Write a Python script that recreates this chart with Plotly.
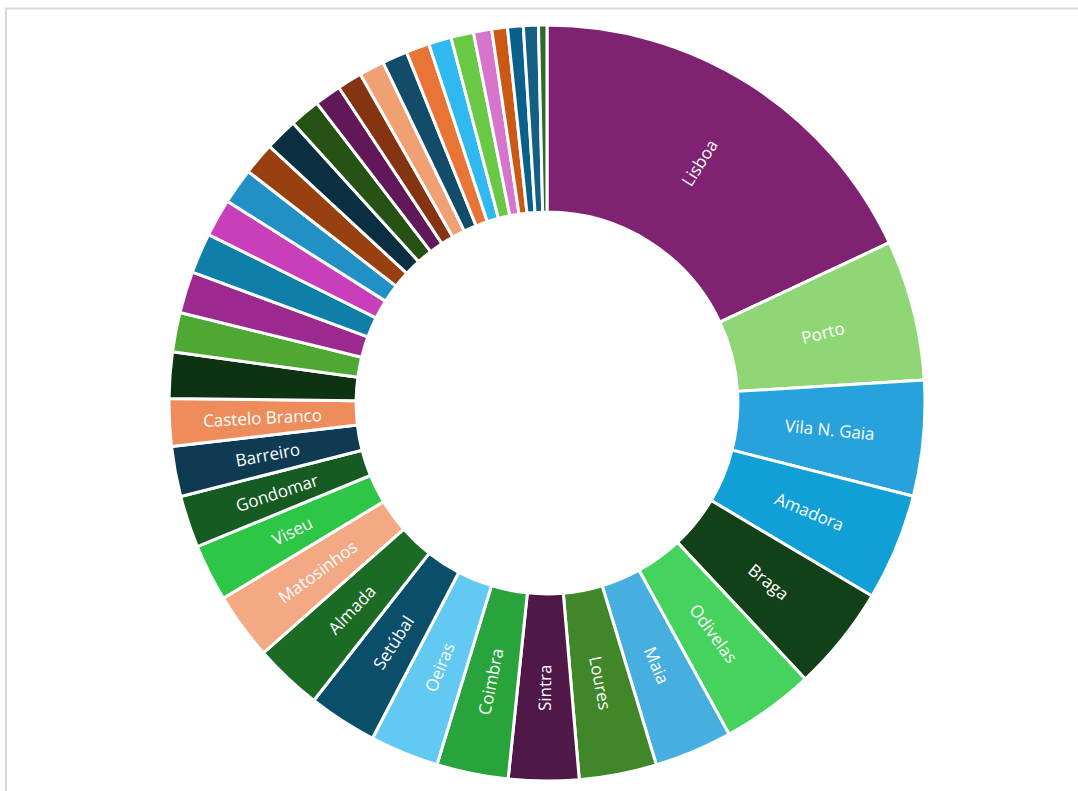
import math
import plotly.graph_objects as go

# Municipalities, clockwise from 12 o'clock
municipios = [
    "Lisboa", "Porto", "Vila N. Gaia", "Amadora", "Braga", "Odivelas", "Maia",
    "Loures", "Sintra", "Coimbra", "Oeiras", "Setúbal", "Almada", "Matosinhos",
    "Viseu", "Gondomar", "Barreiro", "Castelo Branco",
    "Vila Franca de Xira", "Guimarães", "Leiria", "Funchal", "Aveiro", "Faro",
    "Santa Maria da Feira", "Cascais", "Seixal", "Évora", "Santarém",
    "Vila do Conde", "Póvoa de Varzim", "Torres Vedras", "Ponta Delgada",
    "Valongo", "Paredes", "Figueira da Foz", "Portimão", "Bragança",
    "Vila Real",
]

# Share of total (%)
percentagem = [
    18.03, 6.00, 4.94, 4.56, 4.50, 3.97, 3.33,
    3.31, 3.00, 3.06, 2.94, 2.94, 2.92, 2.86,
    2.44, 2.22, 2.14, 2.03,
    1.97, 1.69, 1.78, 1.72, 1.61, 1.53,
    1.39, 1.39, 1.31, 1.14, 1.06,
    1.08, 1.08, 1.00, 0.97,
    0.97, 0.78, 0.67, 0.67, 0.64,
    0.36,
]

# Only the larger slices carry a name inside the ring
n_rotulados = 18

cores = [
    "#7f2272", "#8fd776", "#27a2dc", "#11a0d6", "#124019", "#45d35e", "#47afe0",
    "#3f8728", "#501848", "#29a33c", "#62c9f2", "#0a4e6a", "#1c6b25", "#f2a984",
    "#2dc647", "#165c22", "#0e3a52", "#ef8c5c",
    "#0d3312", "#4fa832", "#9c2a8e", "#0f7ea8", "#c93eb9", "#2190c4",
    "#994010", "#0b2e40", "#275216", "#601858", "#843410",
    "#f0a073", "#124c68", "#e87535", "#30b8f0",
    "#6ac944", "#d774cc", "#cc5816", "#09608a", "#155f85",
    "#2d6b28",
]

BURACO = 0.505

fig = go.Figure(
    go.Pie(
        labels=municipios,
        values=percentagem,
        textinfo="none",
        hole=BURACO,
        sort=False,
        direction="clockwise",
        rotation=0,
        marker=dict(colors=cores, line=dict(color="white", width=3)),
        showlegend=False,
    )
)

W, H = 1078, 791
ml, mr, mt, mb = 169, 153, 25, 10
pw, ph = W - ml - mr, H - mt - mb

# Radial labels centred in the ring, read outward on the right half
# and inward on the left half
total = sum(percentagem)
r_meio = 0.5 * (1 + BURACO) / 2  # paper units, square domain
acumulado = 0.0
for i, (nome, v) in enumerate(zip(municipios, percentagem)):
    theta = (acumulado + v / 2) / total * 360.0
    acumulado += v
    if i >= n_rotulados:
        continue
    t = math.radians(theta)
    angulo = theta - 90 if theta < 180 else theta - 270
    fig.add_annotation(
        x=0.5 + r_meio * math.sin(t), y=0.5 + r_meio * math.cos(t),
        xref="paper", yref="paper", text=nome, showarrow=False,
        textangle=angulo, xanchor="center", yanchor="middle",
        font=dict(family="Open Sans, Noto Sans, sans-serif", size=17, color="white"),
    )

# Light frame around the chart area
fig.add_shape(
    type="rect", xref="paper", yref="paper",
    x0=(6 - ml) / pw, x1=(W + 20 - ml) / pw,
    y0=-(mb + 20) / ph, y1=1 + (mt - 8.5) / ph,
    line=dict(color="#d9d9d9", width=2), fillcolor="rgba(0,0,0,0)", layer="below",
)

fig.update_layout(
    width=W, height=H,
    margin=dict(l=ml, r=mr, t=mt, b=mb),
    paper_bgcolor="white", plot_bgcolor="white",
)

fig.write_html("out.html")
